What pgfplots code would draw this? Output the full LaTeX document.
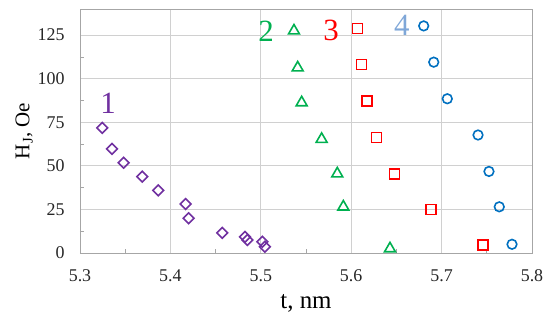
\documentclass[border=0pt]{standalone}
\usepackage{pgfplots}
\pgfplotsset{compat=1.18}
\usepackage{fontspec}
\setmainfont{Liberation Serif}
\definecolor{cPurple}{HTML}{7030A0}
\definecolor{cGreen}{HTML}{00B050}
\definecolor{cRed}{HTML}{FF0000}
\definecolor{cBlue}{HTML}{0070C0}
\definecolor{cLBlue}{HTML}{7FA7D8}
\definecolor{cGrid}{HTML}{D0D0D0}
\definecolor{cFrame}{HTML}{A6A6A6}
\begin{document}
\begin{tikzpicture}
\useasboundingbox (-80bp,-72bp) rectangle (470bp,253bp);
\begin{axis}[
  at={(0,0)}, anchor=south west,
  scale only axis, width=452bp, height=244bp,
  xmin=5.3, xmax=5.8, ymin=0, ymax=140,
  xtick={5.3,5.4,5.5,5.6,5.7,5.8},
  ytick={0,25,50,75,100,125},
  minor x tick num=1, minor y tick num=1,
  xticklabel style={/pgf/number format/fixed,/pgf/number format/precision=1,/pgf/number format/fixed zerofill},
  /pgf/number format/assume math mode=true,
  ticklabel style={font=\fontsize{18}{20}\selectfont, text=black!85},
  major tick length=0pt, minor tick length=4bp,
  tick style={cFrame, line width=0.8pt},
  axis line style={cFrame, line width=0.9pt},
  grid=major, major grid style={cGrid, line width=0.8pt},
  xtick pos=bottom, ytick pos=left,
  tick align=inside,
  xticklabel shift=13bp, yticklabel shift=12bp,
  xlabel={t, nm}, ylabel={H\textsubscript{J}, Oe},
  xlabel style={font=\fontsize{25}{28}\selectfont, yshift=-6bp},
  ylabel style={font=\fontsize{21}{24}\selectfont, yshift=-2bp},
  clip=false,
]
\addplot[only marks, mark=square, mark size=3.8bp, mark options={rotate=45, line width=1.6pt, draw=cPurple}] coordinates {
(5.3247,71.8) (5.3354,59.8) (5.3483,51.8) (5.3689,43.8) (5.3866,35.9) (5.4169,28.1)
(5.4202,19.9) (5.4574,11.5) (5.4825,9.3) (5.4851,7.5) (5.5017,6.5) (5.5046,3.6)};
\addplot[only marks, mark=triangle, mark size=6.3bp, mark options={line width=1.6pt, draw=cGreen}] coordinates {
(5.5367,127.5) (5.5408,106.3) (5.5452,86.3) (5.5673,65.3) (5.5846,45.5) (5.5913,26.5) (5.6429,2.5)};
\addplot[only marks, mark=square, mark size=5bp, mark options={line width=1.6pt, draw=cRed}] coordinates {
(5.6071,128.8) (5.6115,108.2) (5.6175,87.3) (5.6278,66.3) (5.6477,45.3) (5.6883,25.0) (5.7458,4.6)};
\addplot[only marks, mark=o, mark size=4.8bp, mark options={line width=1.6pt, draw=cBlue}] coordinates {
(5.6802,130.3) (5.6913,109.5) (5.7063,88.5) (5.7403,67.7) (5.7524,46.8) (5.7638,26.5) (5.7779,5.0)};
\node[font=\fontsize{31}{34}\selectfont, text=cPurple] at (axis cs:5.331,86) {1};
\node[font=\fontsize{31}{34}\selectfont, text=cGreen] at (axis cs:5.5058,127) {2};
\node[font=\fontsize{31}{34}\selectfont, text=cRed] at (axis cs:5.5777,127.5) {3};
\node[font=\fontsize{31}{34}\selectfont, text=cLBlue] at (axis cs:5.656,130.5) {4};
\end{axis}
\end{tikzpicture}
\end{document}
